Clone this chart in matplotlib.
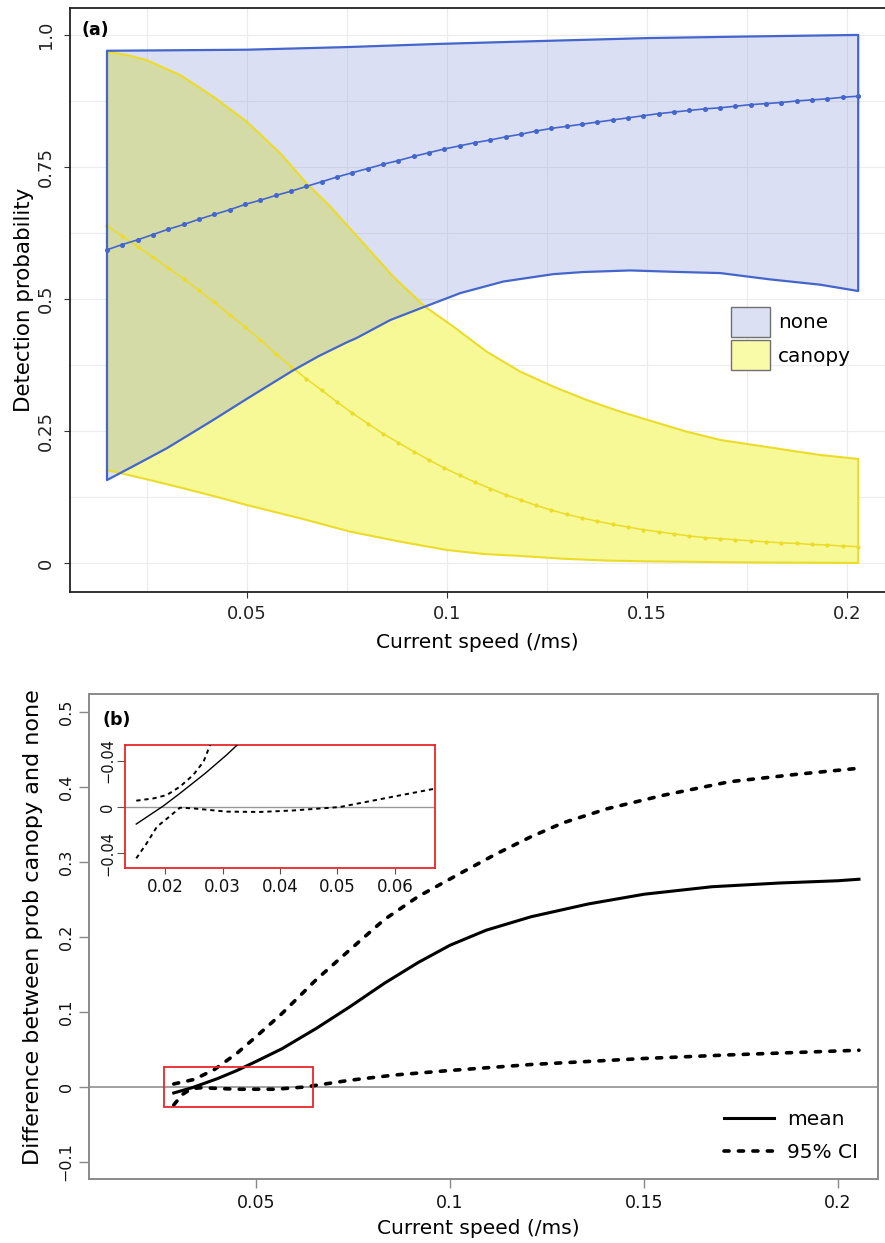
import matplotlib
matplotlib.use('Agg')
import matplotlib.pyplot as plt
from matplotlib.patches import Patch, Rectangle
from matplotlib.lines import Line2D
from matplotlib.ticker import MultipleLocator

plt.rcParams['font.family'] = ['DejaVu Sans']

# ---------------- Panel (a) data ----------------
speed_grid = [0.0150, 0.0188, 0.0227, 0.0265, 0.0303, 0.0342, 0.0380, 0.0418, 0.0457, 0.0495,
              0.0533, 0.0572, 0.0610, 0.0648, 0.0687, 0.0725, 0.0763, 0.0802, 0.0840, 0.0878,
              0.0917, 0.0955, 0.0993, 0.1032, 0.1070, 0.1108, 0.1147, 0.1185, 0.1223, 0.1261,
              0.1300, 0.1338, 0.1376, 0.1415, 0.1453, 0.1491, 0.1530, 0.1568, 0.1606, 0.1645,
              0.1683, 0.1721, 0.1760, 0.1798, 0.1836, 0.1875, 0.1913, 0.1951, 0.1990, 0.2028]
none_mean = [0.593, 0.603, 0.612, 0.622, 0.632, 0.641, 0.651, 0.660, 0.669, 0.679,
             0.687, 0.696, 0.704, 0.713, 0.722, 0.731, 0.739, 0.747, 0.755, 0.762,
             0.770, 0.777, 0.784, 0.790, 0.796, 0.801, 0.807, 0.812, 0.818, 0.823,
             0.827, 0.831, 0.835, 0.839, 0.843, 0.847, 0.851, 0.854, 0.857, 0.860,
             0.862, 0.865, 0.868, 0.870, 0.872, 0.875, 0.877, 0.879, 0.882, 0.884]
canopy_mean = [0.638, 0.619, 0.599, 0.579, 0.559, 0.538, 0.516, 0.494, 0.470, 0.447,
               0.423, 0.396, 0.372, 0.349, 0.327, 0.305, 0.284, 0.264, 0.245, 0.228,
               0.211, 0.195, 0.180, 0.166, 0.153, 0.141, 0.129, 0.119, 0.109, 0.100,
               0.092, 0.085, 0.079, 0.073, 0.068, 0.063, 0.059, 0.055, 0.051, 0.048,
               0.046, 0.044, 0.042, 0.040, 0.038, 0.037, 0.035, 0.034, 0.032, 0.031]

none_hi_x = [0.015, 0.050, 0.075, 0.098, 0.126, 0.150, 0.175, 0.2028]
none_hi = [0.970, 0.972, 0.977, 0.983, 0.989, 0.994, 0.997, 1.000]
none_lo_x = [0.015, 0.0225, 0.0299, 0.0375, 0.0416, 0.050, 0.056, 0.0616, 0.068, 0.075,
             0.0774, 0.0858, 0.0933, 0.1033, 0.1141, 0.1266, 0.1341, 0.1458, 0.1583, 0.1683,
             0.1808, 0.1933, 0.2028]
none_lo = [0.157, 0.187, 0.217, 0.252, 0.271, 0.311, 0.339, 0.365, 0.392, 0.418,
           0.426, 0.460, 0.482, 0.511, 0.533, 0.547, 0.551, 0.554, 0.551, 0.549,
           0.537, 0.527, 0.515]

canopy_hi_x = [0.015, 0.020, 0.025, 0.0333, 0.0416, 0.0499, 0.0583, 0.0649, 0.0708, 0.0783,
               0.0866, 0.0945, 0.1016, 0.1099, 0.1183, 0.1266, 0.1349, 0.1433, 0.1516, 0.1599,
               0.1683, 0.1766, 0.1849, 0.1933, 0.2028]
canopy_hi = [0.968, 0.962, 0.952, 0.924, 0.883, 0.836, 0.776, 0.719, 0.675, 0.612,
             0.542, 0.4855, 0.4476, 0.4002, 0.3624, 0.3339, 0.3087, 0.2866, 0.2676, 0.2487,
             0.2330, 0.2235, 0.2140, 0.2045, 0.197]
canopy_lo_x = [0.015, 0.0241, 0.0341, 0.042, 0.0499, 0.0633, 0.0758, 0.0883, 0.0999, 0.1091,
               0.1183, 0.129, 0.140, 0.150, 0.175, 0.2028]
canopy_lo = [0.176, 0.160, 0.1414, 0.126, 0.1098, 0.0846, 0.0593, 0.0403, 0.0246, 0.017,
             0.0133, 0.008, 0.0045, 0.003, 0.001, 0.0]

groups = ['none', 'canopy']
a_xticks = [0.05, 0.1, 0.15, 0.2]
a_xticklabels = ['0.05', '0.1', '0.15', '0.2']
a_yticks = [0, 0.25, 0.5, 0.75, 1.0]
a_yticklabels = ['0', '0.25', '0.5', '0.75', '1.0']

# ---------------- Panel (b) data ----------------
b_mean_x = [0.0288, 0.0335, 0.0400, 0.0451, 0.0500, 0.0567, 0.0655, 0.0742, 0.0830, 0.0918,
            0.1000, 0.1093, 0.1209, 0.1356, 0.1500, 0.1675, 0.1850, 0.2000, 0.2054]
b_mean = [-0.008, -0.001, 0.011, 0.022, 0.034, 0.051, 0.078, 0.107, 0.138, 0.166,
          0.189, 0.209, 0.227, 0.244, 0.257, 0.267, 0.272, 0.275, 0.277]
b_hi_x = [0.0288, 0.0340, 0.0392, 0.0451, 0.0500, 0.0567, 0.0655, 0.0742, 0.0830, 0.0918,
          0.1034, 0.1120, 0.1206, 0.1290, 0.1405, 0.1550, 0.1720, 0.1895, 0.2054]
b_hi = [0.004, 0.010, 0.023, 0.045, 0.067, 0.098, 0.143, 0.183, 0.223, 0.254,
        0.287, 0.311, 0.333, 0.352, 0.371, 0.389, 0.407, 0.417, 0.425]
b_lo_x = [0.0288, 0.0310, 0.0335, 0.0360, 0.0450, 0.0550, 0.0626, 0.0742, 0.0858, 0.1000,
          0.1210, 0.1500, 0.1730, 0.2054]
b_lo = [-0.024, -0.010, -0.002, -0.001, -0.003, -0.003, 0.000, 0.009, 0.016, 0.022,
        0.030, 0.038, 0.043, 0.049]
b_xticks = [0.05, 0.1, 0.15, 0.2]
b_xticklabels = ['0.05', '0.1', '0.15', '0.2']
b_yticks = [-0.1, 0, 0.1, 0.2, 0.3, 0.4, 0.5]
b_yticklabels = ['\u22120.1', '0', '0.1', '0.2', '0.3', '0.4', '0.5']
zoom_x = [0.0262, 0.0647]
zoom_y = [-0.0267, 0.0266]

# inset
ins_mean_x = [0.0150, 0.0197, 0.0226, 0.0270, 0.0307, 0.0330]
ins_mean = [-0.0148, 0.0009, 0.0119, 0.0293, 0.0452, 0.0560]
ins_hi_x = [0.0150, 0.0180, 0.0203, 0.0226, 0.0249, 0.0267, 0.0278, 0.0285]
ins_hi = [0.0055, 0.0075, 0.0104, 0.0177, 0.0278, 0.0394, 0.0533, 0.0620]
ins_lo_x = [0.0150, 0.0168, 0.0186, 0.0206, 0.0226, 0.0249, 0.0307, 0.0365, 0.0423, 0.0504,
            0.0597, 0.0670]
ins_lo = [-0.0446, -0.0316, -0.0171, -0.0090, -0.0006, -0.0012, -0.0040, -0.0043, -0.0030, 0.0000,
          0.0090, 0.0160]
ins_xticks = [0.02, 0.03, 0.04, 0.05, 0.06]
ins_xticklabels = ['0.02', '0.03', '0.04', '0.05', '0.06']
ins_yticks = [-0.04, 0, 0.04]
ins_yticklabels = ['\u22120.04', '0', '\u22120.04']

# ---------------- Figure ----------------
W, H = 885, 1243
fig = plt.figure(figsize=(W / 100, H / 100), dpi=100)


def fx(px):
    return px / W


def fy(py):
    return 1 - py / H


BLUE = '#4466cc'
YEL = '#ecdc2a'
BLUE_FILL = (131 / 255, 148 / 255, 214 / 255, 0.29)
YEL_FILL = '#f6f995'

# ---- Panel (a) ----
ax1 = fig.add_axes([fx(70), fy(592), fx(885 - 70), (592 - 8) / H])
ax1.set_xlim(0.00575, 0.2095)
ax1.set_ylim(-0.055, 1.051)
ax1.xaxis.set_minor_locator(MultipleLocator(0.025))
ax1.yaxis.set_minor_locator(MultipleLocator(0.125))
ax1.grid(True, which='both', color='#ececec', lw=0.8)
ax1.set_axisbelow(True)

poly_c_x = canopy_hi_x + canopy_lo_x[::-1]
poly_c_y = canopy_hi + canopy_lo[::-1]
poly_n_x = none_hi_x + none_lo_x[::-1]
poly_n_y = none_hi + none_lo[::-1]
ax1.fill(poly_c_x, poly_c_y, facecolor=YEL_FILL, edgecolor='none', zorder=2)
ax1.fill(poly_n_x, poly_n_y, facecolor=BLUE_FILL, edgecolor='none', zorder=3)
ax1.fill(poly_c_x, poly_c_y, facecolor='none', edgecolor=YEL, lw=1.5, zorder=4,
         joinstyle='round')
ax1.plot(speed_grid, canopy_mean, color=YEL, lw=1.1, marker='o', ms=2.0, zorder=5)
ax1.fill(poly_n_x, poly_n_y, facecolor='none', edgecolor=BLUE, lw=1.6, zorder=6,
         joinstyle='round')
ax1.plot(speed_grid, none_mean, color=BLUE, lw=1.2, marker='o', ms=2.6, zorder=7)

ax1.set_xticks(a_xticks)
ax1.set_xticklabels(a_xticklabels)
ax1.set_yticks(a_yticks)
ax1.set_yticklabels(a_yticklabels, rotation=90, va='center')
ax1.tick_params(axis='both', which='major', labelsize=13, colors='#333333',
                labelcolor='#222222', length=4, width=0.8)
ax1.tick_params(axis='x', pad=5)
ax1.tick_params(axis='y', pad=7)
ax1.tick_params(which='minor', length=0)
for s in ['top', 'left', 'bottom']:
    ax1.spines[s].set_color('#222222')
    ax1.spines[s].set_linewidth(1.3)
ax1.spines['right'].set_visible(False)

leg_a = ax1.legend(
    handles=[Patch(facecolor='#dbe0f3', edgecolor='#707070', lw=1.0),
             Patch(facecolor='#f9fba8', edgecolor='#707070', lw=1.0)],
    labels=groups, loc='upper left', bbox_to_anchor=(fx(731), fy(307)),
    bbox_transform=fig.transFigure, frameon=False, fontsize=14.4,
    handlelength=1.95, handleheight=1.95, handletextpad=0.4,
    labelspacing=0.15, borderpad=0, borderaxespad=0)

fig.text(fx(95), fy(30), '(a)', fontsize=12.5, fontweight='bold',
         ha='center', va='center')
fig.text(fx(477), fy(643), 'Current speed (/ms)', fontsize=14.5,
         ha='center', va='center')
fig.text(fx(24), fy(300), 'Detection probability', fontsize=15.4,
         rotation=90, ha='center', va='center')

# ---- Panel (b) ----
ax2 = fig.add_axes([fx(89), fy(1179), fx(878 - 89), (1179 - 694) / H])
ax2.set_xlim(0.00696, 0.2103)
ax2.set_ylim(-0.1227, 0.524)
ax2.axhline(0, color='#9a9a9a', lw=1.3, zorder=1)
dot_style = (0, (1.4, 2.6))
ax2.plot(b_hi_x, b_hi, color='black', lw=2.6, linestyle=dot_style,
         dash_capstyle='round', zorder=3)
ax2.plot(b_lo_x, b_lo, color='black', lw=2.6, linestyle=dot_style,
         dash_capstyle='round', zorder=3)
ax2.plot(b_mean_x, b_mean, color='black', lw=2.2, zorder=4)
ax2.add_patch(Rectangle((zoom_x[0], zoom_y[0]), zoom_x[1] - zoom_x[0],
                        zoom_y[1] - zoom_y[0], fill=False,
                        edgecolor='#e8262a', lw=1.3, zorder=5))
ax2.set_xticks(b_xticks)
ax2.set_xticklabels(b_xticklabels)
ax2.set_yticks(b_yticks)
ax2.set_yticklabels(b_yticklabels, rotation=90, va='center')
ax2.tick_params(axis='x', labelsize=12.5, length=6.5, width=1.0, colors='#888888',
                labelcolor='#111111', pad=4)
ax2.tick_params(axis='y', labelsize=11.5, length=7, width=1.0, colors='#888888',
                labelcolor='#111111', pad=4)
for s in ax2.spines.values():
    s.set_color('#8a8a8a')
    s.set_linewidth(1.4)

leg_b = ax2.legend(
    handles=[Line2D([], [], color='black', lw=2.2),
             Line2D([], [], color='black', lw=2.6, linestyle=dot_style,
                    dash_capstyle='round')],
    labels=['mean', '95% CI'], loc='upper left',
    bbox_to_anchor=(fx(724), fy(1110)), bbox_transform=fig.transFigure,
    frameon=False, fontsize=14.5, handlelength=2.5, handletextpad=0.65,
    labelspacing=0.7, borderpad=0, borderaxespad=0)

fig.text(fx(117), fy(720), '(b)', fontsize=12.5, fontweight='bold',
         ha='center', va='center')
fig.text(fx(478), fy(1228), 'Current speed (/ms)', fontsize=14.5,
         ha='center', va='center')
fig.text(fx(33), fy(927), 'Difference between prob canopy and none',
         fontsize=16, rotation=90, ha='center', va='center')

# ---- Inset ----
ax3 = fig.add_axes([fx(125), fy(868), fx(435 - 125), (868 - 745) / H])
ax3.set_xlim(0.01304, 0.06696)
ax3.set_ylim(-0.053, 0.0539)
ax3.axhline(0, color='#9a9a9a', lw=1.0, zorder=1)
ins_dot = (0, (2.2, 2.0))
ax3.plot(ins_hi_x, ins_hi, color='black', lw=1.4, linestyle=ins_dot, zorder=3)
ax3.plot(ins_lo_x, ins_lo, color='black', lw=1.4, linestyle=ins_dot, zorder=3)
ax3.plot(ins_mean_x, ins_mean, color='black', lw=1.0, zorder=4)
ax3.set_xticks(ins_xticks)
ax3.set_xticklabels(ins_xticklabels)
ax3.set_yticks(ins_yticks)
ax3.set_yticklabels(ins_yticklabels, rotation=90, va='center')
ax3.tick_params(axis='x', labelsize=12, length=4, width=0.8, colors='#555555',
                labelcolor='#111111', pad=3)
ax3.tick_params(axis='y', labelsize=10.5, length=5.5, width=0.8, colors='#555555',
                labelcolor='#111111', pad=1.5)
for s in ax3.spines.values():
    s.set_color('#e8262a')
    s.set_linewidth(1.3)

fig.savefig('out.png', dpi=100)
